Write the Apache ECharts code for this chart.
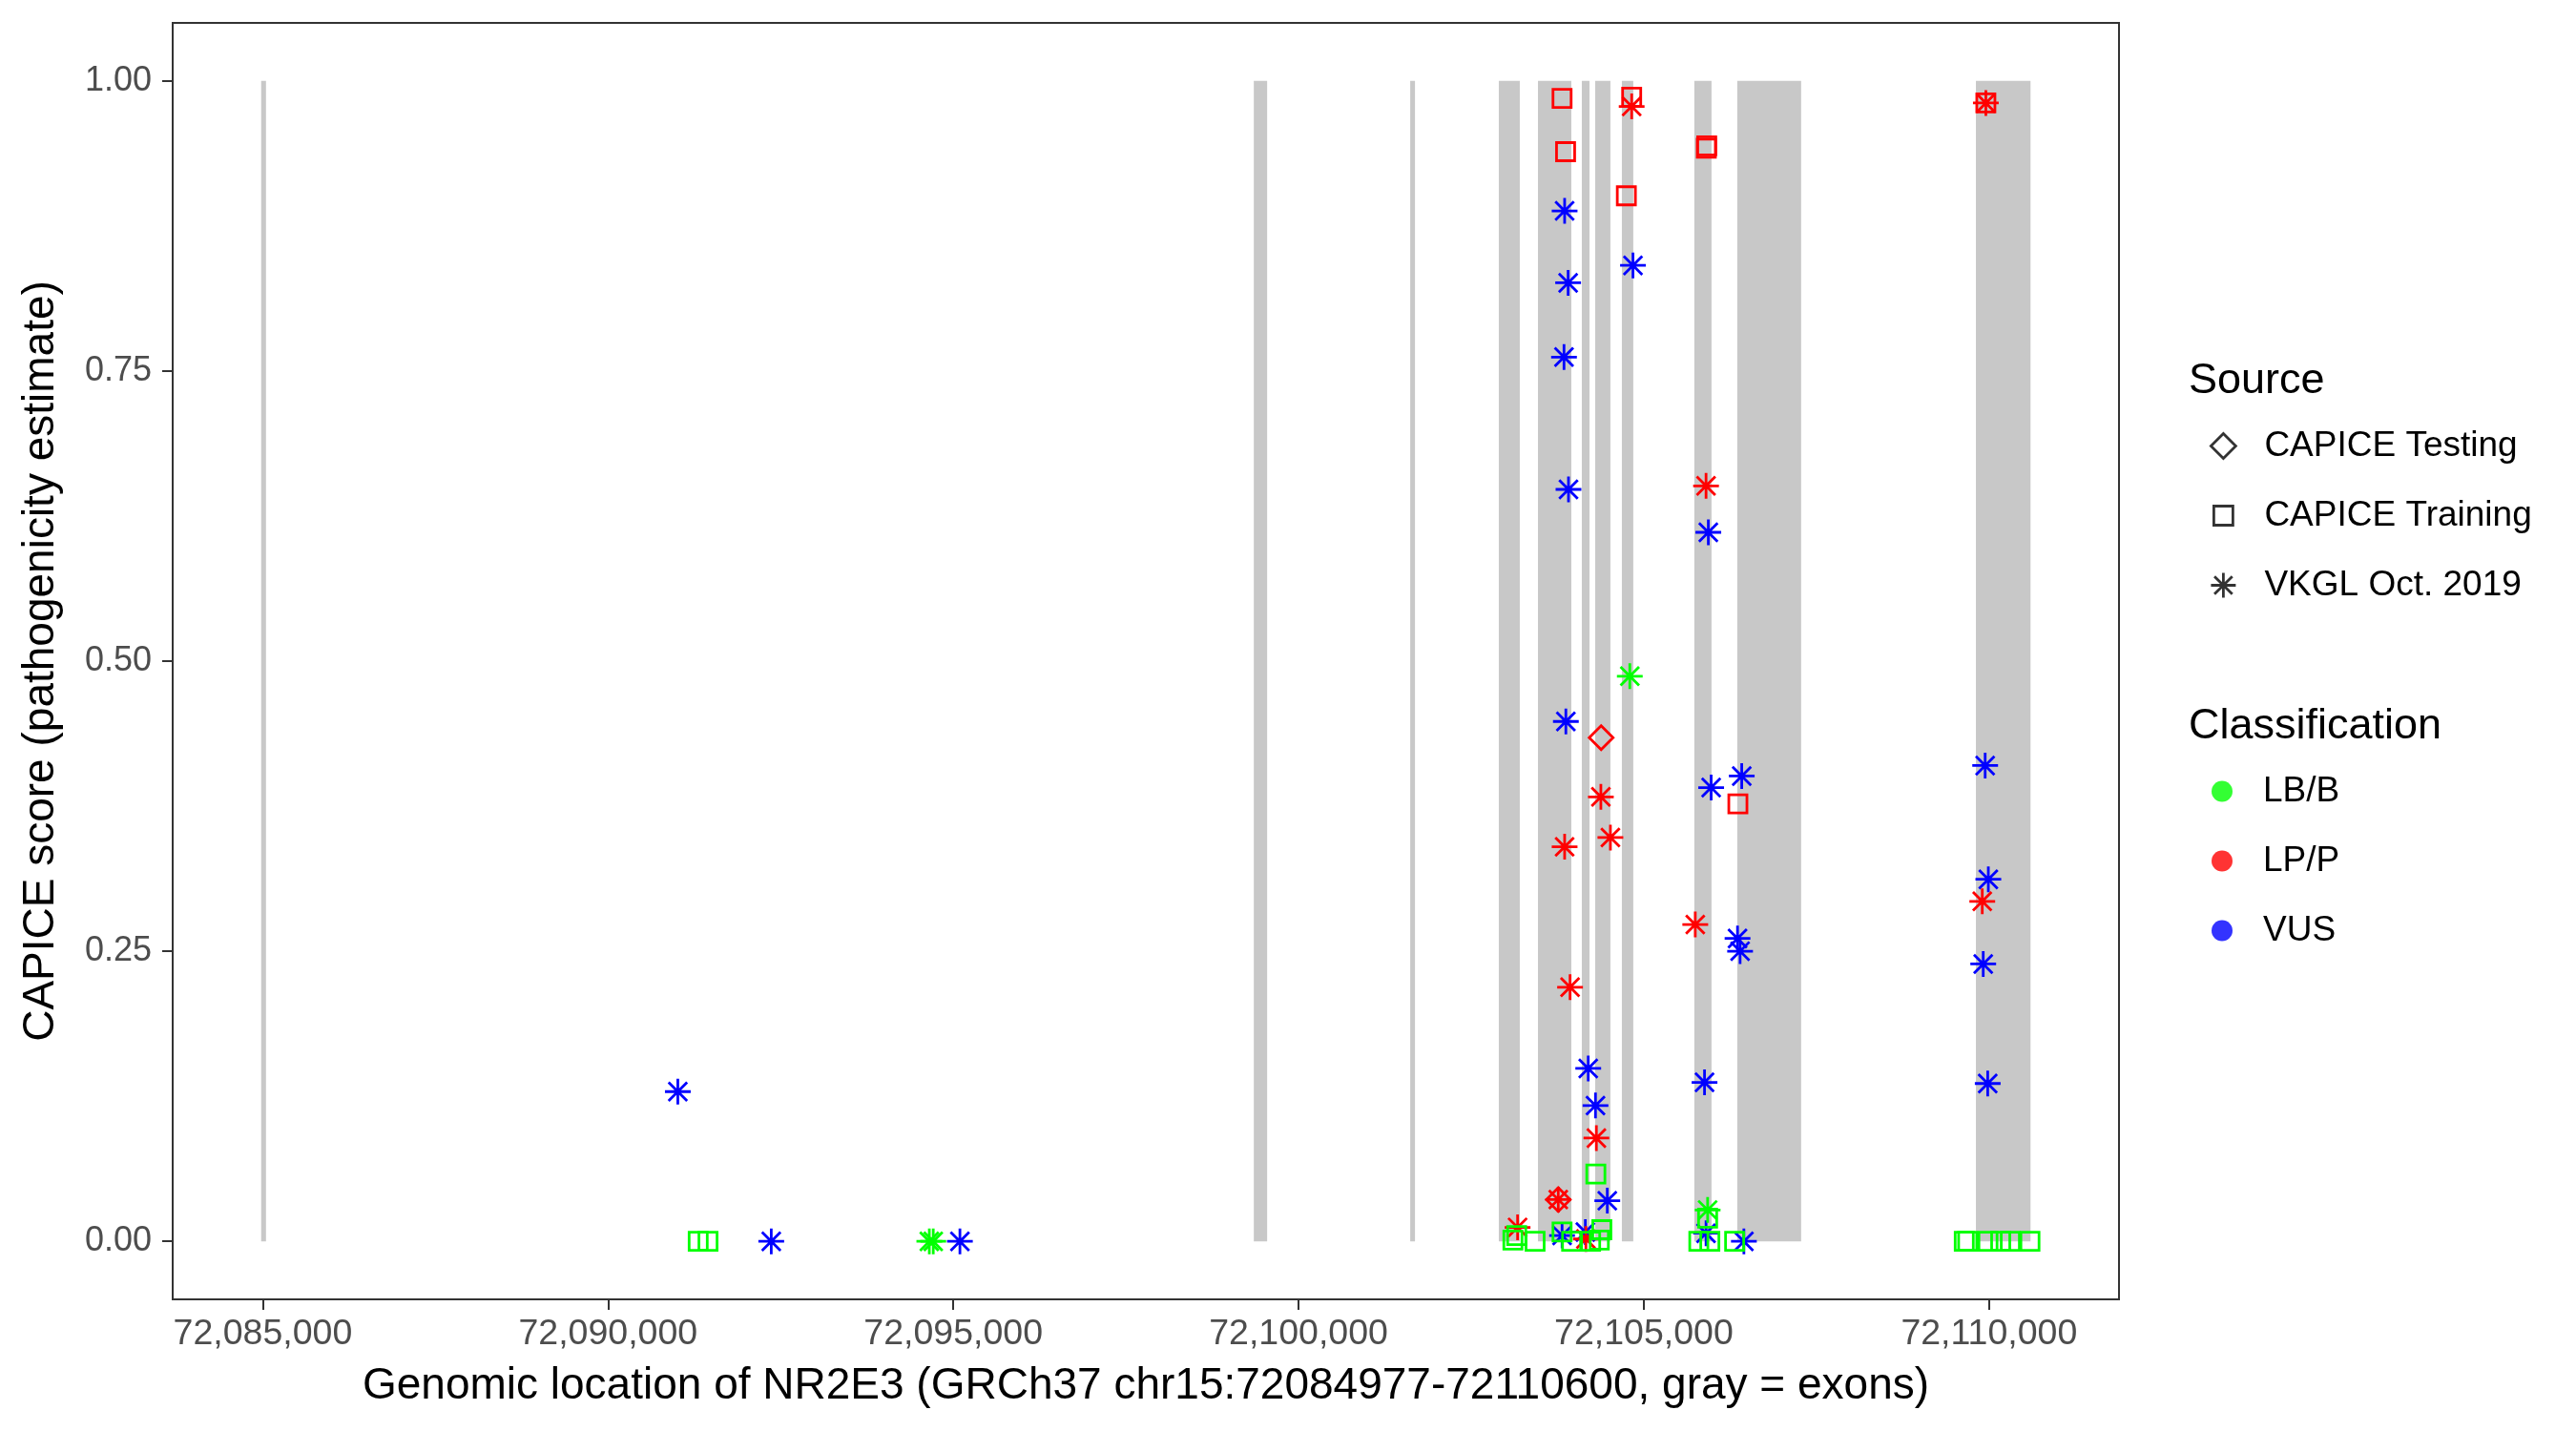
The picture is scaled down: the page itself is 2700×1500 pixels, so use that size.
<!DOCTYPE html>
<html>
<head>
<meta charset="utf-8">
<script src="https://cdn.jsdelivr.net/npm/echarts@6/dist/echarts.min.js"></script>
<style>
html,body{margin:0;padding:0;background:#fff;}
#chart{width:2700px;height:1500px;}
</style>
</head>
<body>
<div id="chart"></div>
<script>
// ---------------- DATA ----------------
const geneRange = [72084977, 72110600];
const xTicks = [72085000, 72090000, 72095000, 72100000, 72105000, 72110000];
const yTicks = [0, 0.25, 0.5, 0.75, 1.0];

const exons = [
  [72084977, 72085047], [72099352, 72099545], [72101617, 72101686],
  [72102900, 72103204], [72103467, 72103950], [72104102, 72104213],
  [72104295, 72104516], [72104682, 72104847], [72105731, 72105980],
  [72106353, 72107278], [72109809, 72110600]
];

// VKGL Oct. 2019 (asterisk)
const vkglVUS = [
  [72091011, 0.129], [72092364, 0.000], [72095096, 0.000],
  [72103853, 0.888], [72104843, 0.841], [72103904, 0.826], [72103844, 0.762],
  [72103909, 0.648], [72105934, 0.611], [72103871, 0.448], [72105975, 0.391],
  [72106418, 0.401], [72106357, 0.261], [72106394, 0.250], [72104195, 0.149],
  [72105879, 0.137], [72104300, 0.117], [72104471, 0.035], [72103816, 0.005],
  [72104153, 0.008], [72105901, 0.007], [72106449, 0.000],
  [72109943, 0.410], [72109989, 0.312], [72109915, 0.239], [72109980, 0.136]
];
const vkglLPP = [
  [72104824, 0.978], [72105901, 0.651], [72104378, 0.383], [72104516, 0.348],
  [72103853, 0.340], [72105745, 0.273], [72103932, 0.219], [72104313, 0.089],
  [72103761, 0.036], [72103172, 0.012], [72104161, 0.002],
  [72109953, 0.981], [72109901, 0.293]
];
const vkglLBB = [
  [72104797, 0.487], [72094653, 0.000], [72094710, 0.000], [72105924, 0.027]
];

// CAPICE Training (open square)
const trainLPP = [
  [72103816, 0.985], [72104824, 0.986], [72103867, 0.939], [72105911, 0.944],
  [72105905, 0.942], [72104747, 0.901], [72106362, 0.377], [72109953, 0.981]
];
const trainLBB = [
  [72091306, 0.000], [72091448, 0.000], [72103104, 0.001], [72103159, 0.005],
  [72103425, 0.000], [72103816, 0.008], [72103954, 0.000], [72104230, 0.000],
  [72104355, 0.001], [72104392, 0.010], [72104305, 0.058], [72105924, 0.020],
  [72105796, 0.000], [72105956, 0.000], [72106315, 0.000],
  [72109640, 0.000], [72109690, 0.000], [72109984, 0.000], [72110168, 0.000],
  [72110307, 0.000], [72110592, 0.000]
];

// CAPICE Testing (open diamond)
const testLPP = [
  [72104382, 0.434], [72103761, 0.036]
];

const sourceNames = ['CAPICE Testing', 'CAPICE Training', 'VKGL Oct. 2019'];
const classNames = ['LB/B', 'LP/P', 'VUS'];

// ---------------- STYLE / LAYOUT ----------------
const COLORS = { 'LB/B': '#00FF00', 'LP/P': '#FF0000', 'VUS': '#0000FF' };
const DIAMOND = 'path://M0,-1L1,0L0,1L-1,0Z';
const SQUARE = 'path://M-1,-1L1,-1L1,1L-1,1Z';
const SQUARE_L = 'path://M-1.3,-1.3M1.3,1.3M-1,-1L1,-1L1,1L-1,1Z';
const STAR = 'path://M0,-1L0,1M-1,0L1,0M-0.72,-0.72L0.72,0.72M-0.72,0.72L0.72,-0.72';
const SHAPES = {
  'CAPICE Testing': { symbol: DIAMOND, size: 25, legend: DIAMOND },
  'CAPICE Training': { symbol: SQUARE, size: 19, legend: SQUARE_L },
  'VKGL Oct. 2019': { symbol: STAR, size: 27, legend: STAR }
};
const FONT = '"Liberation Sans", Arial, Helvetica, sans-serif';

const W = 2700, H = 1500;
const PL = 181, PR = 2221, PT = 24, PB = 1362;
const span = geneRange[1] - geneRange[0];
const xmin = geneRange[0] - 0.05 * span, xmax = geneRange[1] + 0.05 * span;
const ymin = -0.05, ymax = 1.05;
const xToPx = v => PL + (v - xmin) / (xmax - xmin) * (PR - PL);
const yToPx = v => PT + (ymax - v) / (ymax - ymin) * (PB - PT);

function pointSeries(name, source, cls, data) {
  const s = SHAPES[source];
  return {
    name: name, type: 'scatter', xAxisIndex: 0, yAxisIndex: 0,
    symbol: s.symbol, symbolSize: s.size, data: data, z: 3,
    itemStyle: { color: 'rgba(0,0,0,0)', borderColor: COLORS[cls], borderWidth: 2.8, opacity: 1 },
    emphasis: { disabled: true }, silent: true
  };
}

const series = [
  {
    name: 'exons', type: 'custom', xAxisIndex: 0, yAxisIndex: 0, z: 1, silent: true,
    data: exons,
    renderItem: function (params, api) {
      const p1 = api.coord([api.value(0), 1]);
      const p2 = api.coord([api.value(1), 0]);
      return { type: 'rect', shape: { x: p1[0], y: p1[1], width: Math.max(p2[0] - p1[0], 1), height: p2[1] - p1[1] },
               style: { fill: '#C8C8C8' } };
    }
  },
  pointSeries('VKGL VUS', 'VKGL Oct. 2019', 'VUS', vkglVUS),
  pointSeries('VKGL LPP', 'VKGL Oct. 2019', 'LP/P', vkglLPP),
  pointSeries('VKGL LBB', 'VKGL Oct. 2019', 'LB/B', vkglLBB),
  pointSeries('Train LPP', 'CAPICE Training', 'LP/P', trainLPP),
  pointSeries('Train LBB', 'CAPICE Training', 'LB/B', trainLBB),
  pointSeries('Test LPP', 'CAPICE Testing', 'LP/P', testLPP)
];
// legend-only series
sourceNames.concat(classNames).forEach(n => series.push({ name: n, type: 'scatter', data: [], xAxisIndex: 0, yAxisIndex: 0 }));

const legendText = { fontSize: 37, color: '#000', fontFamily: FONT, lineHeight: 36 };
const chart = echarts.init(document.getElementById('chart'), null, { renderer: 'canvas', width: W, height: H });
chart.setOption({
  animation: false,
  backgroundColor: '#fff',
  title: [
    { text: 'Source', left: 2294, top: 377, padding: 0, textStyle: { fontSize: 45, fontWeight: 'normal', color: '#000', fontFamily: FONT } },
    { text: 'Classification', left: 2294, top: 739, padding: 0, textStyle: { fontSize: 45, fontWeight: 'normal', color: '#000', fontFamily: FONT } }
  ],
  legend: [
    {
      orient: 'vertical', left: 2316, top: 449, itemWidth: 76, itemHeight: 26, itemGap: 36,
      selectedMode: false, textStyle: legendText, padding: 0,
      data: sourceNames.map(n => ({ name: n, icon: SHAPES[n].legend,
        itemStyle: { color: 'rgba(0,0,0,0)', borderColor: '#000', borderWidth: 2.8 } }))
    },
    {
      orient: 'vertical', left: 2318, top: 811, itemWidth: 76, itemHeight: 22, itemGap: 36,
      selectedMode: false, textStyle: legendText, padding: 0,
      data: classNames.map(n => ({ name: n, icon: 'circle', itemStyle: { color: COLORS[n], borderWidth: 0 } }))
    }
  ],
  grid: [
    { left: PL, right: W - PR, top: PT, bottom: H - PB, show: true, borderColor: '#333333', borderWidth: 2, backgroundColor: '#fff', containLabel: false },
    { left: xToPx(xTicks[0]), right: W - xToPx(xTicks[xTicks.length - 1]), top: PT, bottom: H - PB, containLabel: false },
    { left: PL, right: W - PR, top: yToPx(yTicks[yTicks.length - 1]), bottom: H - yToPx(yTicks[0]), containLabel: false }
  ],
  xAxis: [
    { gridIndex: 0, type: 'value', min: xmin, max: xmax,
      axisLine: { show: false, onZero: false }, axisTick: { show: false }, axisLabel: { show: false }, splitLine: { show: false },
      name: 'Genomic location of NR2E3 (GRCh37 chr15:72084977-72110600, gray = exons)',
      nameLocation: 'middle', nameGap: 68,
      nameTextStyle: { fontSize: 46, color: '#000', fontFamily: FONT } },
    { gridIndex: 1, type: 'value', min: xTicks[0], max: xTicks[xTicks.length - 1], interval: xTicks[1] - xTicks[0],
      axisLine: { show: false, onZero: false }, splitLine: { show: false },
      axisTick: { show: true, length: 11, lineStyle: { color: '#333333', width: 2 } },
      axisLabel: { show: true, margin: 18, fontSize: 37.5, color: '#4D4D4D', fontFamily: FONT,
        formatter: v => Math.round(v).toLocaleString('en-US') } },
    { gridIndex: 2, type: 'value', min: xmin, max: xmax, show: false, axisLine: { onZero: false } }
  ],
  yAxis: [
    { gridIndex: 0, type: 'value', min: ymin, max: ymax,
      axisLine: { show: false, onZero: false }, axisTick: { show: false }, axisLabel: { show: false }, splitLine: { show: false },
      name: 'CAPICE score (pathogenicity estimate)', nameLocation: 'middle', nameGap: 115,
      nameTextStyle: { fontSize: 46, color: '#000', fontFamily: FONT } },
    { gridIndex: 1, type: 'value', min: ymin, max: ymax, show: false, axisLine: { onZero: false } },
    { gridIndex: 2, type: 'value', min: yTicks[0], max: yTicks[yTicks.length - 1], interval: yTicks[1] - yTicks[0],
      axisLine: { show: false, onZero: false }, splitLine: { show: false },
      axisTick: { show: true, length: 11, lineStyle: { color: '#333333', width: 2 } },
      axisLabel: { show: true, margin: 22, fontSize: 36, color: '#4D4D4D', fontFamily: FONT,
        formatter: v => v.toFixed(2) } }
  ],
  series: series
});
</script>
</body>
</html>
